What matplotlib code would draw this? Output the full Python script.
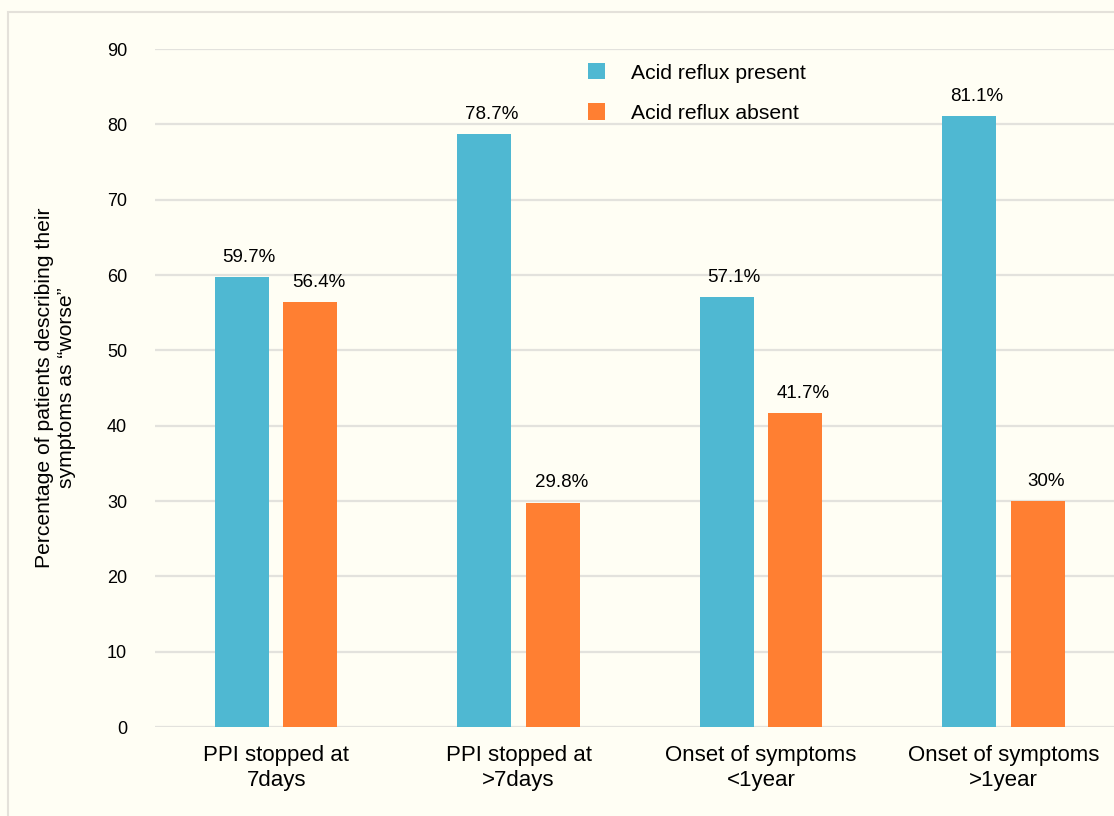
import matplotlib.pyplot as plt
import matplotlib.patches as mpatches
import numpy as np

categories = ['PPI stopped at\n7days', 'PPI stopped at\n>7days',
              'Onset of symptoms\n<1year', 'Onset of symptoms\n>1year']
present = [59.7, 78.7, 57.1, 81.1]
absent = [56.4, 29.8, 41.7, 30.0]
present_labels = ['59.7%', '78.7%', '57.1%', '81.1%']
absent_labels = ['56.4%', '29.8%', '41.7%', '30%']

bg = '#fffef4'
blue = '#4fb8d2'
orange = '#ff7f32'

plt.rcParams['font.family'] = ['Liberation Sans', 'DejaVu Sans']

fig = plt.figure(figsize=(11.14, 8.16), dpi=100, facecolor=bg)
# outer frame (only left/top edges visible in the original crop)
fig.patches.append(mpatches.Rectangle((8/1114, -0.05), 1.2, 1 - 12/816 + 0.05,
                                      transform=fig.transFigure, facecolor=bg,
                                      edgecolor='#e4e1da', linewidth=1.5, zorder=-10))
ax = fig.add_axes([155/1114, 1 - 727/816, 1 - 155/1114, (727 - 49)/816])
ax.set_facecolor('none')

x = np.arange(len(categories))
w = 0.223
off = 0.141
b1 = ax.bar(x - off, present, w, color=blue, label='Acid reflux present', zorder=3)
b2 = ax.bar(x + off, absent, w, color=orange, label='Acid reflux absent', zorder=3)

for rect, lab in zip(b1, present_labels):
    ax.annotate(lab, (rect.get_x() + rect.get_width()/2, rect.get_height()),
                xytext=(5, 8), textcoords='offset points', ha='center', va='bottom', fontsize=13.5)
for rect, lab in zip(b2, absent_labels):
    ax.annotate(lab, (rect.get_x() + rect.get_width()/2, rect.get_height()),
                xytext=(6, 8), textcoords='offset points', ha='center', va='bottom', fontsize=13.5)

ax.set_ylim(0, 90)
ax.set_xlim(-0.5, 3.456)
ax.set_yticks(range(0, 91, 10))
ax.yaxis.grid(True, color='#e3e2dd', linewidth=1.6, zorder=0)
ax.set_axisbelow(True)
for s in ax.spines.values():
    s.set_visible(False)
ax.tick_params(axis='y', length=0, pad=20, labelsize=13)
ax.tick_params(axis='x', length=0, pad=13, labelsize=16)
ax.set_xticks(x)
ax.set_xticklabels(categories, linespacing=1.25)
ax.set_ylabel('Percentage of patients describing their\nsymptoms as \u201cworse\u201d',
              fontsize=15.2, labelpad=22, linespacing=1.2)

ax.legend(loc='upper left', bbox_to_anchor=(414/959, 1.007), frameon=False, fontsize=15.2,
          handlelength=0.8, handleheight=0.8, handletextpad=1.25, labelspacing=0.98)

fig.savefig('out.png', dpi=100, facecolor=bg)
